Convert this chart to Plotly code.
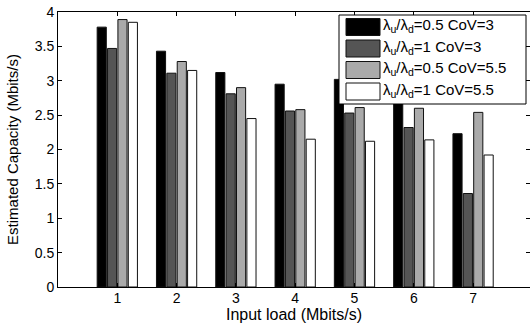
import plotly.graph_objects as go

loads = [1, 2, 3, 4, 5, 6, 7]
series_names = [
    "λ<sub>u</sub>/λ<sub>d</sub>=0.5 CoV=3",
    "λ<sub>u</sub>/λ<sub>d</sub>=1 CoV=3",
    "λ<sub>u</sub>/λ<sub>d</sub>=0.5 CoV=5.5",
    "λ<sub>u</sub>/λ<sub>d</sub>=1 CoV=5.5",
]
r05_cov3 = [3.78, 3.43, 3.12, 2.95, 3.02, 2.90, 2.23]
r1_cov3 = [3.47, 3.11, 2.81, 2.56, 2.53, 2.32, 1.36]
r05_cov55 = [3.89, 3.28, 2.90, 2.58, 2.61, 2.60, 2.54]
r1_cov55 = [3.85, 3.15, 2.45, 2.15, 2.12, 2.14, 1.92]
y_ticks = [0, 0.5, 1, 1.5, 2, 2.5, 3, 3.5, 4]
y_tick_labels = ["0", "0.5", "1", "1.5", "2", "2.5", "3", "3.5", "4"]

series = [r05_cov3, r1_cov3, r05_cov55, r1_cov55]
colors = ["#000000", "#555555", "#aaaaaa", "#ffffff"]

W, H = 530, 323
L, R, T, B = 58, 0, 12, 36
FONT = "Liberation Sans, Arial, Helvetica, sans-serif"

fig = go.Figure()
for name, vals, c in zip(series_names, series, colors):
    fig.add_trace(go.Bar(
        x=loads, y=vals, name=name, showlegend=False,
        marker=dict(color=c, line=dict(color="#111111", width=1)),
    ))

# invisible trace to anchor right axis
fig.add_trace(go.Scatter(x=[None], y=[None], yaxis="y2", showlegend=False))

pw = W - L - R
ph = H - T - B


def px(xp):
    return (xp - L) / pw


def py(yp):
    return (H - B - yp) / ph


shapes = []
annotations = []
# legend box
shapes.append(dict(type="rect", xref="paper", yref="paper",
                   x0=px(339), x1=px(526), y0=py(104), y1=py(15),
                   fillcolor="white", line=dict(color="black", width=1),
                   layer="above"))
row_top = [18.5, 40, 61.5, 83]
for i, (name, c) in enumerate(zip(series_names, colors)):
    t = row_top[i]
    shapes.append(dict(type="rect", xref="paper", yref="paper",
                       x0=px(346), x1=px(380), y0=py(t + 17), y1=py(t),
                       fillcolor=c, line=dict(color="#111111", width=1),
                       layer="above"))
    annotations.append(dict(xref="paper", yref="paper", x=px(381), y=py(t + 7),
                            xanchor="left", yanchor="middle", showarrow=False,
                            text=name, font=dict(family=FONT, size=15, color="black")))

fig.update_layout(
    width=W, height=H,
    margin=dict(l=L, r=R, t=T, b=B, pad=0),
    paper_bgcolor="white", plot_bgcolor="white",
    barmode="group", bargap=0.30, bargroupgap=0.12,
    font=dict(family=FONT, size=14, color="black"),
    shapes=shapes, annotations=annotations,
    xaxis=dict(range=[0, 7.96], tickvals=loads, ticktext=[str(v) for v in loads],
               ticks="inside", ticklen=4, tickcolor="black", ticklabelstandoff=-2,
               showline=True, linecolor="black", linewidth=1, mirror="ticks",
               showgrid=False, zeroline=False,
               title=dict(text="Input load (Mbits/s)", standoff=0,
                          font=dict(family=FONT, size=16))),
    yaxis=dict(range=[0, 4], tickvals=y_ticks, ticktext=y_tick_labels,
               ticks="inside", ticklen=4, tickcolor="black",
               showline=True, linecolor="black", linewidth=1,
               showgrid=False, zeroline=False,
               title=dict(text="Estimated Capacity (Mbits/s)", standoff=12,
                          font=dict(family=FONT, size=15))),
    yaxis2=dict(range=[0, 4], tickvals=y_ticks, overlaying="y", side="right",
                ticks="inside", ticklen=4, tickcolor="black",
                showticklabels=False, showline=False, showgrid=False, zeroline=False),
)

fig.write_html("out.html")
